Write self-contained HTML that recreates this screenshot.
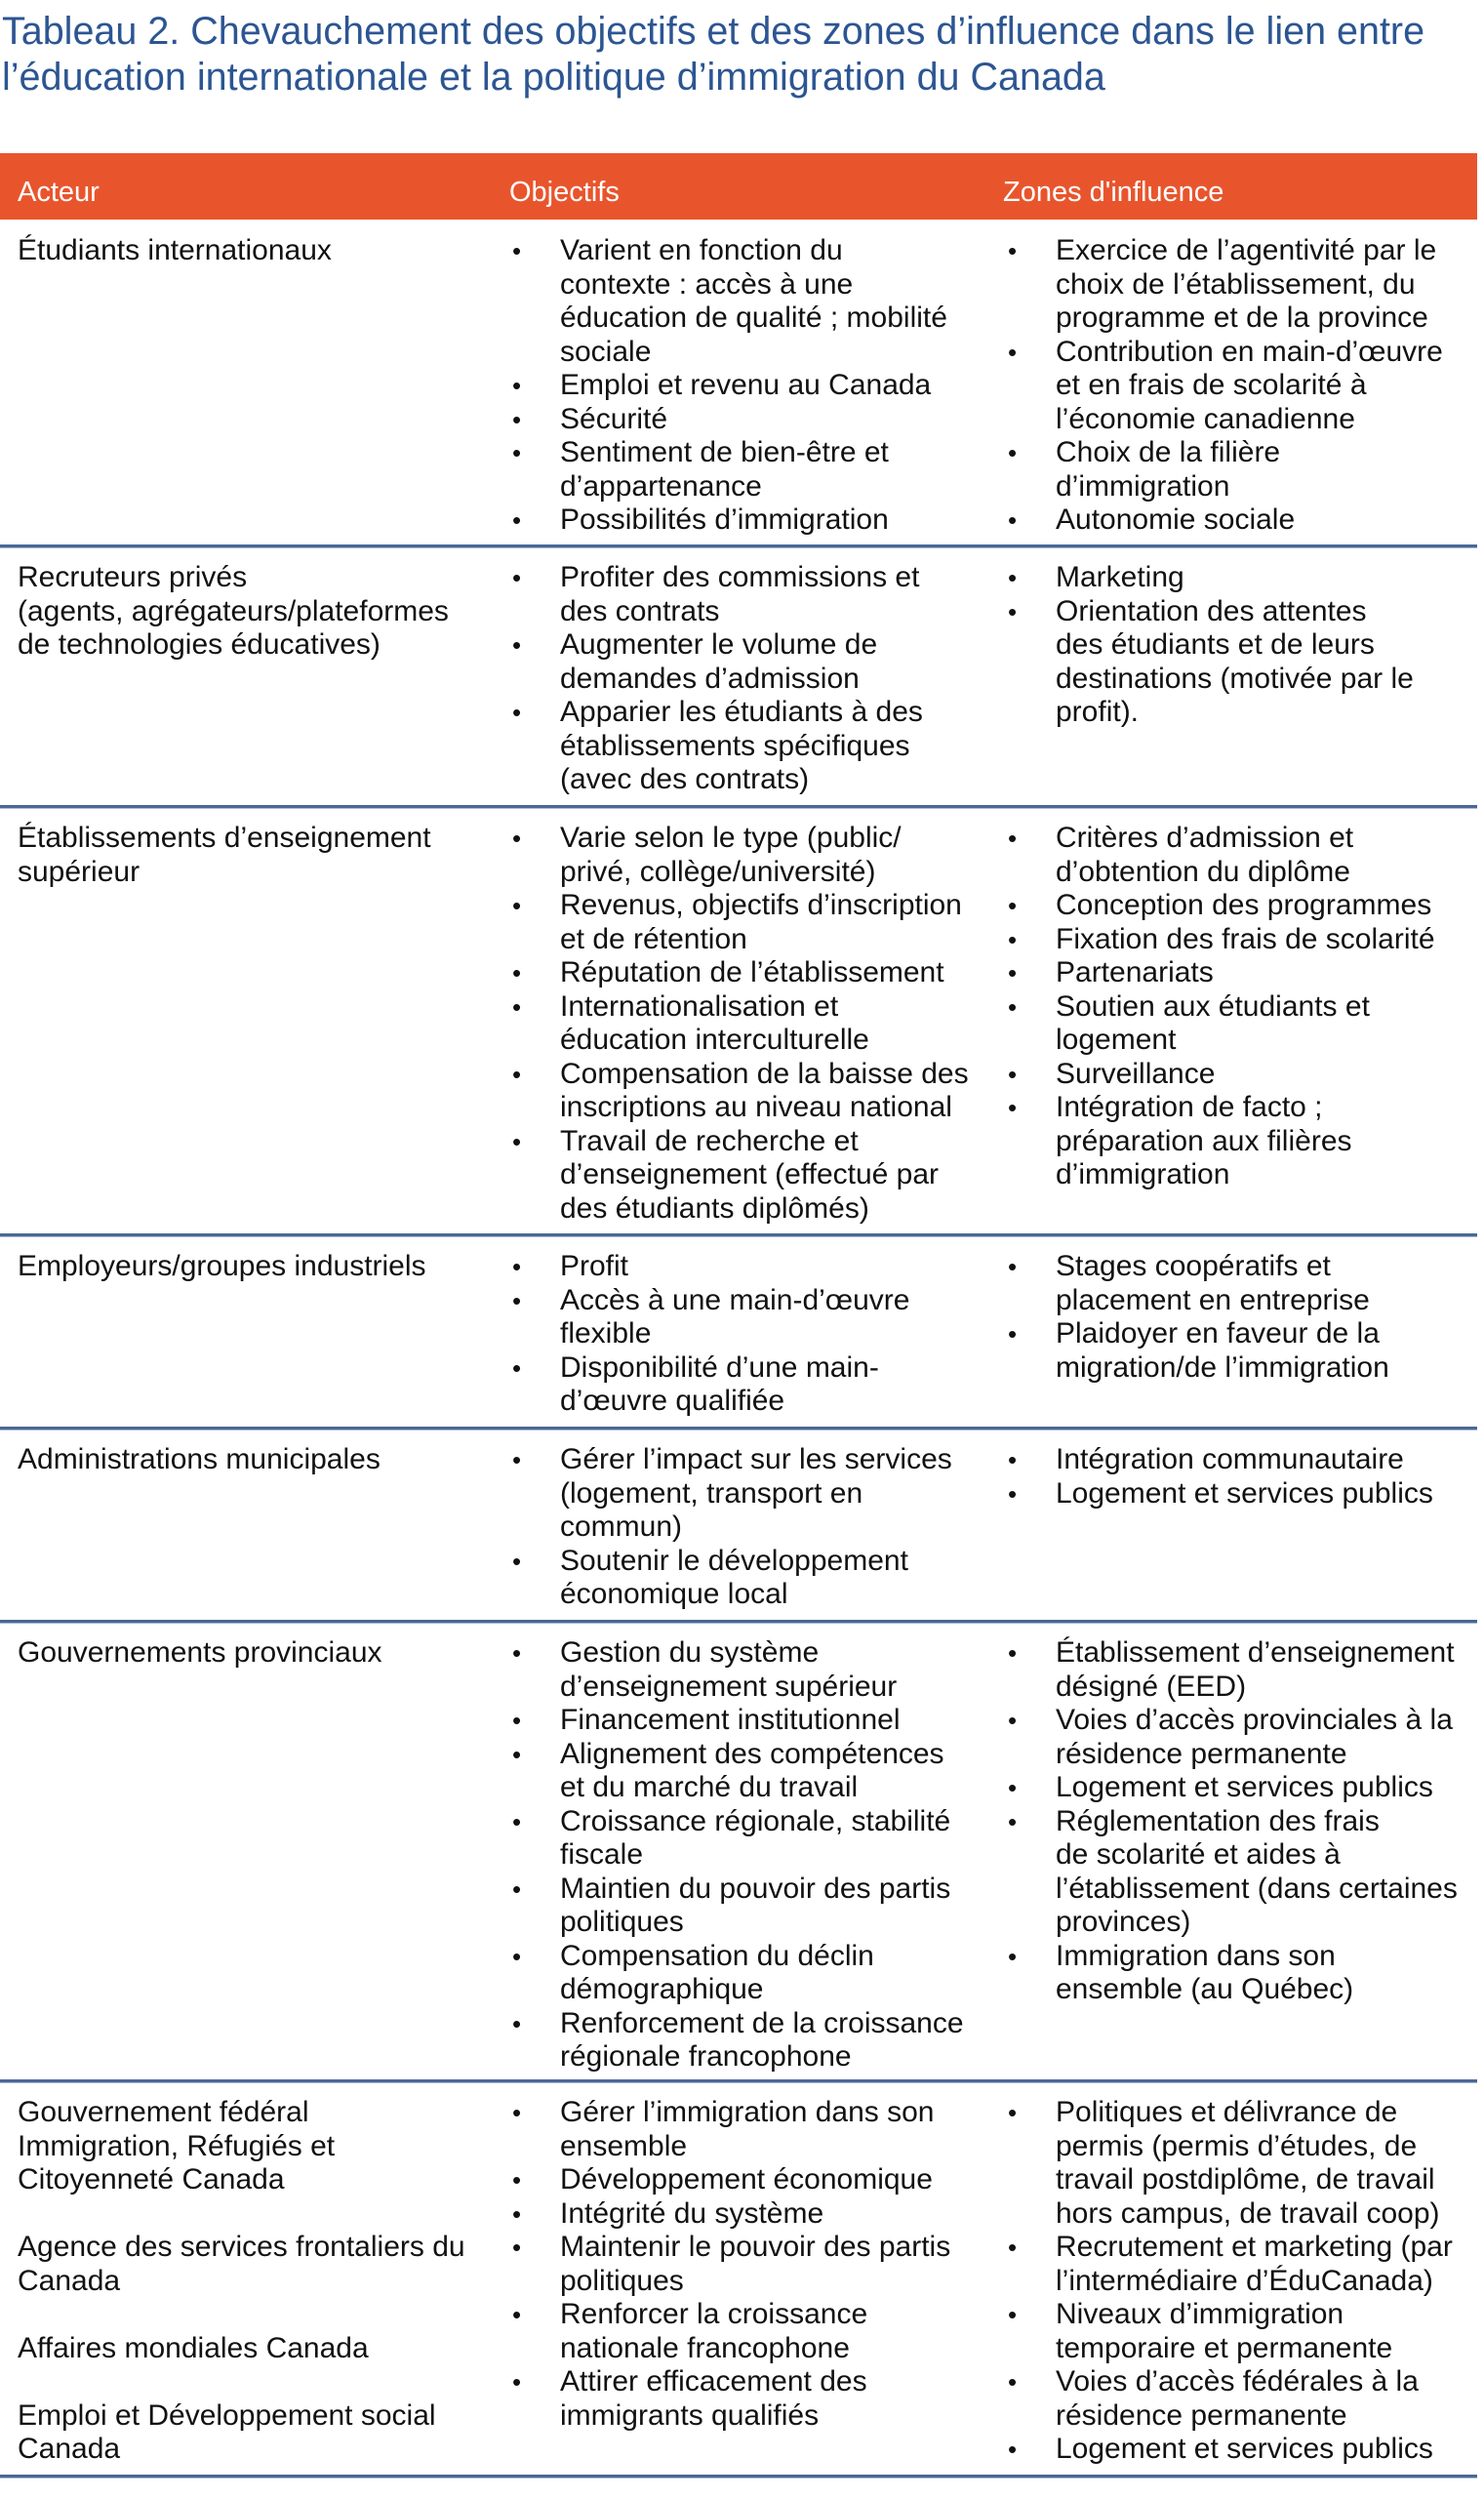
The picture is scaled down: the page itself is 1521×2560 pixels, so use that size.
<!DOCTYPE html>
<html><head><meta charset="utf-8"><style>
body{margin:0;width:1521px;height:2560px;background:#fff;position:relative;overflow:hidden;font-family:"Liberation Sans",sans-serif;color:#111}
.t{position:absolute;left:2px;top:9px;font-size:39.5px;line-height:47px;color:#2c5592;white-space:nowrap}
.hd{position:absolute;left:0;top:157px;width:1514px;height:68px;background:#e8552d;color:#fff;font-size:29px}
.hd span{position:absolute;top:24px}
.sep{position:absolute;left:0;width:1514px;height:3px;background:#4a6894;border-bottom:1px solid #a9b8cf}
.c{position:absolute;font-size:30px;line-height:34.5px;white-space:nowrap}
.l{position:relative;padding-left:49px}
.l:before{content:"•";position:absolute;left:0;top:0;font-size:26px}
</style></head><body>
<div class="t">Tableau 2. Chevauchement des objectifs et des zones d’influence dans le lien entre<br>l’éducation internationale et la politique d’immigration du Canada</div>
<div class="hd"><span style="left:18px">Acteur</span><span style="left:522px">Objectifs</span><span style="left:1028px">Zones d'influence</span></div>

<div class="c" style="left:18px;top:240px">Étudiants internationaux</div>
<div class="c" style="left:525px;top:240px">
<div class="l">Varient en fonction du<br>contexte : accès à une<br>éducation de qualité ; mobilité<br>sociale</div>
<div class="l">Emploi et revenu au Canada</div>
<div class="l">Sécurité</div>
<div class="l">Sentiment de bien-être et<br>d’appartenance</div>
<div class="l">Possibilités d’immigration</div></div>
<div class="c" style="left:1033px;top:240px">
<div class="l">Exercice de l’agentivité par le<br>choix de l’établissement, du<br>programme et de la province</div>
<div class="l">Contribution en main-d’œuvre<br>et en frais de scolarité à<br>l’économie canadienne</div>
<div class="l">Choix de la filière<br>d’immigration</div>
<div class="l">Autonomie sociale</div></div>
<div class="sep" style="top:558px"></div>

<div class="c" style="left:18px;top:575px">Recruteurs privés<br>(agents, agrégateurs/plateformes<br>de technologies éducatives)</div>
<div class="c" style="left:525px;top:575px">
<div class="l">Profiter des commissions et<br>des contrats</div>
<div class="l">Augmenter le volume de<br>demandes d’admission</div>
<div class="l">Apparier les étudiants à des<br>établissements spécifiques<br>(avec des contrats)</div></div>
<div class="c" style="left:1033px;top:575px">
<div class="l">Marketing</div>
<div class="l">Orientation des attentes<br>des étudiants et de leurs<br>destinations (motivée par le<br>profit).</div></div>
<div class="sep" style="top:825px"></div>

<div class="c" style="left:18px;top:842px">Établissements d’enseignement<br>supérieur</div>
<div class="c" style="left:525px;top:842px">
<div class="l">Varie selon le type (public/<br>privé, collège/université)</div>
<div class="l">Revenus, objectifs d’inscription<br>et de rétention</div>
<div class="l">Réputation de l’établissement</div>
<div class="l">Internationalisation et<br>éducation interculturelle</div>
<div class="l">Compensation de la baisse des<br>inscriptions au niveau national</div>
<div class="l">Travail de recherche et<br>d’enseignement (effectué par<br>des étudiants diplômés)</div></div>
<div class="c" style="left:1033px;top:842px">
<div class="l">Critères d’admission et<br>d’obtention du diplôme</div>
<div class="l">Conception des programmes</div>
<div class="l">Fixation des frais de scolarité</div>
<div class="l">Partenariats</div>
<div class="l">Soutien aux étudiants et<br>logement</div>
<div class="l">Surveillance</div>
<div class="l">Intégration de facto ;<br>préparation aux filières<br>d’immigration</div></div>
<div class="sep" style="top:1264px"></div>

<div class="c" style="left:18px;top:1281px">Employeurs/groupes industriels</div>
<div class="c" style="left:525px;top:1281px">
<div class="l">Profit</div>
<div class="l">Accès à une main-d’œuvre<br>flexible</div>
<div class="l">Disponibilité d’une main-<br>d’œuvre qualifiée</div></div>
<div class="c" style="left:1033px;top:1281px">
<div class="l">Stages coopératifs et<br>placement en entreprise</div>
<div class="l">Plaidoyer en faveur de la<br>migration/de l’immigration</div></div>
<div class="sep" style="top:1462px"></div>

<div class="c" style="left:18px;top:1479px">Administrations municipales</div>
<div class="c" style="left:525px;top:1479px">
<div class="l">Gérer l’impact sur les services<br>(logement, transport en<br>commun)</div>
<div class="l">Soutenir le développement<br>économique local</div></div>
<div class="c" style="left:1033px;top:1479px">
<div class="l">Intégration communautaire</div>
<div class="l">Logement et services publics</div></div>
<div class="sep" style="top:1660px"></div>

<div class="c" style="left:18px;top:1677px">Gouvernements provinciaux</div>
<div class="c" style="left:525px;top:1677px">
<div class="l">Gestion du système<br>d’enseignement supérieur</div>
<div class="l">Financement institutionnel</div>
<div class="l">Alignement des compétences<br>et du marché du travail</div>
<div class="l">Croissance régionale, stabilité<br>fiscale</div>
<div class="l">Maintien du pouvoir des partis<br>politiques</div>
<div class="l">Compensation du déclin<br>démographique</div>
<div class="l">Renforcement de la croissance<br>régionale francophone</div></div>
<div class="c" style="left:1033px;top:1677px">
<div class="l">Établissement d’enseignement<br>désigné (EED)</div>
<div class="l">Voies d’accès provinciales à la<br>résidence permanente</div>
<div class="l">Logement et services publics</div>
<div class="l">Réglementation des frais<br>de scolarité et aides à<br>l’établissement (dans certaines<br>provinces)</div>
<div class="l">Immigration dans son<br>ensemble (au Québec)</div></div>
<div class="sep" style="top:2131px"></div>

<div class="c" style="left:18px;top:2148px">Gouvernement fédéral<br>Immigration, Réfugiés et<br>Citoyenneté Canada<br>&nbsp;<br>Agence des services frontaliers du<br>Canada<br>&nbsp;<br>Affaires mondiales Canada<br>&nbsp;<br>Emploi et Développement social<br>Canada</div>
<div class="c" style="left:525px;top:2148px">
<div class="l">Gérer l’immigration dans son<br>ensemble</div>
<div class="l">Développement économique</div>
<div class="l">Intégrité du système</div>
<div class="l">Maintenir le pouvoir des partis<br>politiques</div>
<div class="l">Renforcer la croissance<br>nationale francophone</div>
<div class="l">Attirer efficacement des<br>immigrants qualifiés</div></div>
<div class="c" style="left:1033px;top:2148px">
<div class="l">Politiques et délivrance de<br>permis (permis d’études, de<br>travail postdiplôme, de travail<br>hors campus, de travail coop)</div>
<div class="l">Recrutement et marketing (par<br>l’intermédiaire d’ÉduCanada)</div>
<div class="l">Niveaux d’immigration<br>temporaire et permanente</div>
<div class="l">Voies d’accès fédérales à la<br>résidence permanente</div>
<div class="l">Logement et services publics</div></div>
<div class="sep" style="top:2536px"></div>
</body></html>
